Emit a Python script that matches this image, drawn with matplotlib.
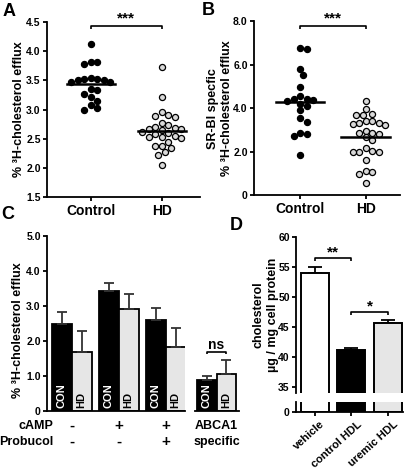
import numpy as np
import matplotlib
matplotlib.use('Agg')
import matplotlib.pyplot as plt
import matplotlib.transforms as mtransforms

plt.rcParams['font.family'] = ['Liberation Sans', 'DejaVu Sans']
plt.rcParams['font.weight'] = 'bold'
plt.rcParams['axes.labelweight'] = 'bold'
plt.rcParams['axes.linewidth'] = 1.3
plt.rcParams['xtick.major.width'] = 1.3
plt.rcParams['ytick.major.width'] = 1.3
plt.rcParams['xtick.major.size'] = 3
plt.rcParams['ytick.major.size'] = 3
plt.rcParams['xtick.major.pad'] = 2
plt.rcParams['ytick.major.pad'] = 1.5

# --- data ---
groups_ab = ['Control', 'HD']

a_control = [4.13, 3.82, 3.78, 3.82, 3.55, 3.50, 3.52, 3.47, 3.50, 3.48,
             3.53, 3.36, 3.34, 3.27, 3.21, 3.15, 3.08, 3.00, 3.03]
a_hd = [3.73, 3.21, 2.96, 2.90, 2.87, 2.88, 2.77, 2.73, 2.70, 2.68, 2.67,
        2.66, 2.65, 2.62, 2.60, 2.58, 2.55, 2.53, 2.52, 2.51, 2.44, 2.38,
        2.38, 2.33, 2.27, 2.21, 2.04]
a_means = [3.44, 2.63]

b_control = [6.73, 6.78, 5.78, 5.52, 4.97, 4.57, 4.44, 4.35, 4.38, 4.41,
             4.21, 4.12, 3.90, 3.55, 3.37, 2.82, 2.71, 2.86, 1.85]
b_hd = [4.33, 3.96, 3.72, 3.70, 3.70, 3.41, 3.41, 3.31, 3.29, 3.24, 3.30,
        2.97, 2.86, 2.85, 2.66, 2.52, 2.80, 2.17, 2.05, 2.00, 1.98, 1.98,
        1.64, 1.10, 1.09, 1.00, 0.55]
b_means = [4.27, 2.68]

c_con = [2.49, 3.42, 2.61]
c_con_err = [0.35, 0.25, 0.32]
c_hd = [1.69, 2.91, 1.84]
c_hd_err = [0.59, 0.44, 0.54]
c_camp = ['-', '+', '+']
c_probucol = ['-', '-', '+']
c_abca1 = [0.88, 1.06]
c_abca1_err = [0.11, 0.39]

d_labels = ['vehicle', 'control HDL', 'uremic HDL']
d_values = [54.0, 41.1, 45.7]
d_err = [1.1, 0.4, 0.5]
d_colors = ['white', 'black', '#e6e6e6']

W, H = 406, 470
fig = plt.figure(figsize=(W / 100, H / 100), dpi=100)


def px_axes(left, top, right, bottom):
    return fig.add_axes([left / W, 1 - bottom / H, (right - left) / W, (bottom - top) / H])


def swarm(values, ax, d_px=6.5, step=0.5):
    # simple beeswarm in pixel space
    bb = ax.get_position()
    x0, x1 = ax.get_xlim()
    y0, y1 = ax.get_ylim()
    sx = bb.width * W / (x1 - x0)
    sy = bb.height * H / (y1 - y0)
    vals = np.asarray(values)
    offs = np.zeros(len(vals))
    placed = []
    cands = [0] + [s * j for j in range(1, 30) for s in (1, -1)]
    for i in np.argsort(-vals):
        y = vals[i] * sy
        for c in cands:
            x = c * d_px * step
            if all((x - px) ** 2 + (y - py) ** 2 >= d_px ** 2 for px, py in placed):
                break
        placed.append((x, y))
        offs[i] = x / sx
    return offs


def bracket(ax, x1, x2, y, h, label, dy, size=11):
    ax.plot([x1, x1, x2, x2], [y - h, y, y, y - h], color='black', lw=1.2,
            clip_on=False, solid_capstyle='butt')
    ax.text((x1 + x2) / 2, y + dy, label, ha='center', va='bottom',
            fontsize=size, fontweight='bold', clip_on=False)


def scatter_panel(ax, ctrl, hd, means, half):
    for i, (vals, fc) in enumerate([(ctrl, 'black'), (hd, '#d9d9d9')]):
        offs = swarm(vals, ax)
        ax.plot(i + offs, vals, 'o', ms=4.4, mfc=fc, mec='black', mew=0.9,
                ls='none', zorder=3, clip_on=False)
        ax.plot([i - half, i + half], [means[i], means[i]], color='black',
                lw=1.8, zorder=4)
    ax.set_xticks([0, 1])
    ax.set_xticklabels(groups_ab, fontsize=10)
    ax.spines['top'].set_visible(False)
    ax.spines['right'].set_visible(False)


# --- panel A ---
ax_a = px_axes(47, 22.3, 200, 196.7)
ax_a.set_xlim(-0.62, 1.54)
ax_a.set_ylim(1.5, 4.5)
ax_a.set_yticks(np.arange(1.5, 4.51, 0.5))
ax_a.set_yticklabels(['%.1f' % v for v in np.arange(1.5, 4.51, 0.5)], fontsize=7.5)
scatter_panel(ax_a, a_control, a_hd, a_means, 0.34)
ax_a.set_ylabel('% \u00b3H-cholesterol efflux', fontsize=9)
ax_a.yaxis.set_label_coords(-0.145, 0.5)
bracket(ax_a, 0, 1, 4.44, 0.05, '***', 0.0)

# --- panel B ---
ax_b = px_axes(254, 21, 400, 195.3)
ax_b.set_xlim(-0.70, 1.52)
ax_b.set_ylim(0, 8)
ax_b.set_yticks([0, 2, 4, 6, 8])
ax_b.set_yticklabels(['0', '2.0', '4.0', '6.0', '8.0'], fontsize=7.5)
scatter_panel(ax_b, b_control, b_hd, b_means, 0.37)
ax_b.set_ylabel('SR-BI specfic\n% \u00b3H-cholesterol efflux', fontsize=9,
                linespacing=1.15)
ax_b.yaxis.set_label_coords(-0.145, 0.5)
bracket(ax_b, 0, 1, 7.78, 0.13, '***', 0.0)

# --- panel C (broken x axis) ---
bw = 0.425
ax_c = px_axes(47, 236, 185, 411)
ax_c2 = px_axes(195, 236, 239, 411)
ax_c.set_xlim(-0.526, 2.41)
ax_c2.set_xlim(-0.46, 0.48)
err_kw = dict(ecolor='#333333', elinewidth=1.3, capsize=3.4, capthick=1.3)
xs = np.arange(len(c_con))
ax_c.bar(xs - bw / 2, c_con, bw, color='black', edgecolor='black', lw=1.3,
         yerr=[np.zeros(3), c_con_err], error_kw=err_kw, zorder=2)
ax_c.bar(xs + bw / 2, c_hd, bw, color='#e6e6e6', edgecolor='black', lw=1.3,
         yerr=[np.zeros(3), c_hd_err], error_kw=err_kw, zorder=2)
ax_c2.bar([-bw / 2, bw / 2], c_abca1, bw, color=['black', '#e6e6e6'],
          edgecolor='black', lw=1.3, yerr=[[0, 0], c_abca1_err],
          error_kw=err_kw, zorder=2)
for ax, centers in [(ax_c, xs), (ax_c2, [0])]:
    ax.set_ylim(0, 5)
    ax.set_xticks([])
    ax.spines['top'].set_visible(False)
    ax.spines['right'].set_visible(False)
    for x in centers:
        ax.text(x - bw / 2, 0.09, 'CON', rotation=90, ha='center', va='bottom',
                color='white', fontsize=8, fontweight='bold', zorder=3)
        ax.text(x + bw / 2, 0.09, 'HD', rotation=90, ha='center', va='bottom',
                color='black', fontsize=8, fontweight='bold', zorder=3)
ax_c.set_yticks(np.arange(0, 5.1, 1))
ax_c.set_yticklabels(['0', '1.0', '2.0', '3.0', '4.0', '5.0'], fontsize=7.5)
ax_c2.spines['left'].set_visible(False)
ax_c2.set_yticks([])
ax_c.set_ylabel('% \u00b3H-cholesterol efflux', fontsize=9)
ax_c.yaxis.set_label_coords(-0.17, 0.46)
bracket(ax_c2, -bw / 2, bw / 2, 1.69, 0.07, 'ns', 0.0, size=10)

trans = ax_c.get_xaxis_transform()
ax_c.text(-0.38, -0.086, 'cAMP', transform=trans, ha='right', va='center', fontsize=9)
ax_c.text(-0.38, -0.175, 'Probucol', transform=trans, ha='right', va='center', fontsize=9)
for x, s1, s2 in zip(xs, c_camp, c_probucol):
    ax_c.text(x, -0.086, s1, transform=trans, ha='center', va='center', fontsize=11)
    ax_c.text(x, -0.175, s2, transform=trans, ha='center', va='center', fontsize=11)
trans2 = ax_c2.get_xaxis_transform()
ax_c2.text(0, -0.086, 'ABCA1', transform=trans2, ha='center', va='center', fontsize=9)
ax_c2.text(0, -0.175, 'specific', transform=trans2, ha='center', va='center', fontsize=9)

# --- panel D (broken y axis) ---
ax_d = px_axes(296, 237.3, 403, 393)
ax_d0 = px_axes(296, 402, 403, 412)
dx = np.arange(len(d_values))
for ax in (ax_d, ax_d0):
    ax.bar(dx, d_values, 0.76, color=d_colors, edgecolor='black', lw=1.4, zorder=2)
    ax.set_xlim(-0.516, 2.42)
    ax.spines['top'].set_visible(False)
    ax.spines['right'].set_visible(False)
ax_d.errorbar(dx, d_values, yerr=[np.zeros(3), d_err], fmt='none', ecolor='black',
              elinewidth=1.3, capsize=5, capthick=1.3, zorder=1)
ax_d.set_ylim(34, 60)
ax_d.set_yticks(np.arange(35, 61, 5))
ax_d.set_yticklabels([str(v) for v in range(35, 61, 5)], fontsize=7.5)
ax_d.spines['bottom'].set_visible(False)
ax_d.set_xticks([])
ax_d0.set_ylim(0, 2)
ax_d0.set_yticks([0])
ax_d0.set_yticklabels(['0'], fontsize=7.5)
ax_d0.set_xticks(dx)
ax_d0.set_xticklabels(d_labels, rotation=42, ha='right', va='top', fontsize=8)
shift = mtransforms.ScaledTranslation(0.12, 0, fig.dpi_scale_trans)
for lab in ax_d0.get_xticklabels():
    lab.set_transform(lab.get_transform() + shift)
ax_d.set_ylabel('cholesterol\n\u00b5g / mg cell protein', fontsize=9, linespacing=1.3)
ax_d.yaxis.set_label_coords(-0.16, 0.5)
bracket(ax_d, 0, 1, 56.5, 0.5, '**', -0.2)
bracket(ax_d, 1, 2, 47.5, 0.5, '*', -0.2)

# panel letters
for label, x, y in [('A', 3, 3), ('B', 202, 2), ('C', 1, 206), ('D', 230, 217)]:
    fig.text(x / W, 1 - y / H, label, ha='left', va='top', fontsize=13,
             fontweight='bold')

fig.savefig('out.png', dpi=100)
